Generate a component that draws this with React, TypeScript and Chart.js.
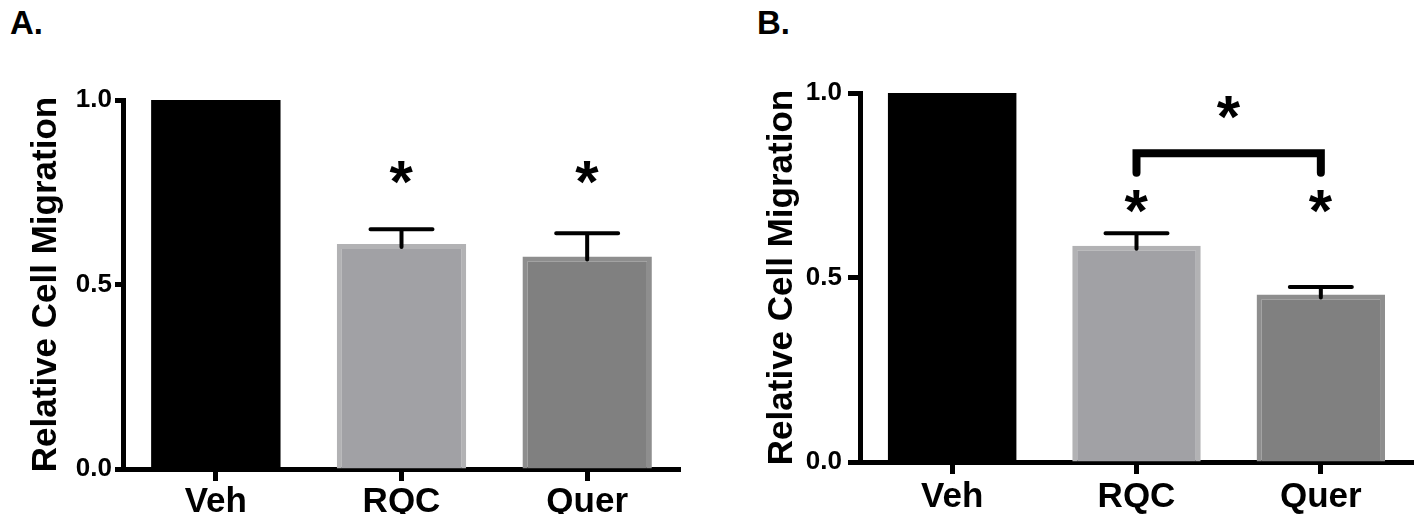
import React, { useEffect, useRef } from 'react';
import { Chart, registerables } from 'chart.js';

Chart.register(...registerables);

const FONT = "'Liberation Sans', Arial, Helvetica, sans-serif";

// ---- shared ----
const categories = ['Veh', 'RQC', 'Quer'];
const yTickValues = [0, 0.5, 1.0];
const yAxisTitle = 'Relative Cell Migration';
const barFills = ['#000000', '#a1a1a5', '#808080'];
const barBorders = ['#000000', '#b2b2b4', '#8e8e8e'];
const barBorderWidths = [0, 5, 5];

// ---- panel A ----
const panelAMeans = [1.0, 0.61, 0.576];
const panelASem = [0, 0.04, 0.063];
const panelAStarLevels = [null, 0.804, 0.804];

// ---- panel B ----
const panelBMeans = [1.0, 0.586, 0.454];
const panelBSem = [0, 0.034, 0.02];
const panelBStarLevels = [null, 0.705, 0.705];
const panelBBracketFrom = 'RQC';
const panelBBracketTo = 'Quer';
const panelBBracketLevel = 0.837;
const panelBBracketLegEnd = 0.784;
const panelBBracketStarLevel = 0.961;

type Bracket = { from: string; to: string; level: number; legEnd: number; starLevel: number } | null;

function drawStar(ctx: CanvasRenderingContext2D, x: number, y: number, size: number) {
  ctx.save();
  ctx.font = `bold ${size}px ${FONT}`;
  ctx.fillStyle = '#000';
  ctx.textAlign = 'left';
  ctx.textBaseline = 'alphabetic';
  const m = ctx.measureText('*');
  const w = m.actualBoundingBoxLeft + m.actualBoundingBoxRight;
  const h = m.actualBoundingBoxAscent + m.actualBoundingBoxDescent;
  ctx.fillText('*', x - w / 2 + m.actualBoundingBoxLeft, y - h / 2 + m.actualBoundingBoxAscent);
  ctx.restore();
}

function makeAnnotPlugin(means: number[], sem: number[], stars: (number | null)[], bracket: Bracket) {
  return {
    id: 'annot',
    afterDraw(chart: any) {
      const ctx: CanvasRenderingContext2D = chart.ctx;
      const xs = chart.scales.x;
      const ys = chart.scales.y;
      ctx.save();
      ctx.strokeStyle = '#000';
      ctx.lineWidth = 4;
      ctx.lineCap = 'round';
      means.forEach((m, i) => {
        if (!sem[i]) return;
        const x = xs.getPixelForValue(i);
        const yTop = ys.getPixelForValue(m + sem[i]);
        const yBar = ys.getPixelForValue(m);
        ctx.beginPath();
        ctx.moveTo(x, yBar + 3);
        ctx.lineTo(x, yTop);
        ctx.moveTo(x - 31, yTop);
        ctx.lineTo(x + 31, yTop);
        ctx.stroke();
      });
      stars.forEach((s, i) => {
        if (s == null) return;
        drawStar(ctx, xs.getPixelForValue(i), ys.getPixelForValue(s), 60);
      });
      if (bracket) {
        const x1 = xs.getPixelForValue(categories.indexOf(bracket.from));
        const x2 = xs.getPixelForValue(categories.indexOf(bracket.to));
        const yl = ys.getPixelForValue(bracket.level);
        const ye = ys.getPixelForValue(bracket.legEnd);
        ctx.lineWidth = 8;
        ctx.lineJoin = 'miter';
        ctx.lineCap = 'round';
        ctx.beginPath();
        ctx.moveTo(x1, ye);
        ctx.lineTo(x1, yl);
        ctx.lineTo(x2, yl);
        ctx.lineTo(x2, ye);
        ctx.stroke();
        drawStar(ctx, (x1 + x2) / 2, ys.getPixelForValue(bracket.starLevel), 60);
      }
      ctx.restore();
    },
  };
}

type Layout = {
  yAxisWidth: number;
  xAxisHeight: number;
  padTop: number;
  padRight: number;
  yTickLength: number;
  yTickPadding: number;
  titlePad: number;
  xTickPadding: number;
};

function Panel(props: {
  left: number;
  width: number;
  label: string;
  labelLeft: number;
  means: number[];
  sem: number[];
  stars: (number | null)[];
  bracket: Bracket;
  layout: Layout;
}) {
  const ref = useRef<HTMLCanvasElement | null>(null);
  useEffect(() => {
    if (!ref.current) return;
    const L = props.layout;
    const chart = new Chart(ref.current, {
      type: 'bar',
      data: {
        labels: categories,
        datasets: [
          {
            data: props.means,
            backgroundColor: barFills,
            borderColor: barBorders,
            borderWidth: barBorderWidths,
            borderSkipped: 'start',
            categoryPercentage: 1,
            barPercentage: 0.697,
          },
        ],
      },
      options: {
        responsive: false,
        animation: false,
        devicePixelRatio: 1,
        layout: { padding: { top: L.padTop, right: L.padRight, left: 0, bottom: 0 } },
        plugins: { legend: { display: false }, tooltip: { enabled: false } },
        scales: {
          x: {
            z: 1,
            grid: {
              offset: false,
              drawOnChartArea: false,
              drawTicks: true,
              tickLength: 12,
              tickWidth: 5,
              tickColor: '#000',
            },
            border: { display: true, color: '#000', width: 5 },
            ticks: {
              color: '#000',
              font: { family: FONT, size: 35, weight: 'bold' },
              padding: L.xTickPadding,
              maxRotation: 0,
            },
            afterFit: (s: any) => {
              s.height = L.xAxisHeight;
            },
          },
          y: {
            z: 1,
            min: 0,
            max: 1,
            afterBuildTicks: (s: any) => {
              s.ticks = yTickValues.map((v) => ({ value: v }));
            },
            grid: {
              drawOnChartArea: false,
              drawTicks: true,
              tickLength: L.yTickLength,
              tickWidth: 5,
              tickColor: '#000',
            },
            border: { display: true, color: '#000', width: 5 },
            ticks: {
              color: '#000',
              font: { family: FONT, size: 26, weight: 'bold' },
              padding: L.yTickPadding,
              callback: (v: any) => Number(v).toFixed(1),
            },
            title: {
              display: true,
              text: yAxisTitle,
              color: '#000',
              font: { family: FONT, size: 35, weight: 'bold' },
              padding: { top: L.titlePad, bottom: 0 },
            },
            afterFit: (s: any) => {
              s.width = L.yAxisWidth;
            },
          },
        },
      } as any,
      plugins: [makeAnnotPlugin(props.means, props.sem, props.stars, props.bracket)],
    });
    return () => chart.destroy();
  }, []);

  return (
    <>
      <div
        style={{
          position: 'absolute',
          left: props.labelLeft,
          top: 3,
          font: `bold 33px ${FONT}`,
          color: '#000',
          lineHeight: '40px',
        }}
      >
        {props.label}
      </div>
      <canvas
        ref={ref}
        width={props.width}
        height={514}
        style={{ position: 'absolute', left: props.left, top: 0, width: props.width, height: 514 }}
      />
    </>
  );
}

export default function App() {
  return (
    <div style={{ position: 'fixed', left: 0, top: 0, width: 1421, height: 514, background: '#fff', overflow: 'hidden' }}>
      <Panel
        left={0}
        width={710}
        label="A."
        labelLeft={10}
        means={panelAMeans}
        sem={panelASem}
        stars={panelAStarLevels}
        bracket={null}
        layout={{ yAxisWidth: 123, xAxisHeight: 45, padTop: 100, padRight: 30, yTickLength: 8, yTickPadding: 3, titlePad: 25, xTickPadding: 0 }}
      />
      <Panel
        left={740}
        width={681}
        label="B."
        labelLeft={757}
        means={panelBMeans}
        sem={panelBSem}
        stars={panelBStarLevels}
        bracket={{
          from: panelBBracketFrom,
          to: panelBBracketTo,
          level: panelBBracketLevel,
          legEnd: panelBBracketLegEnd,
          starLevel: panelBBracketStarLevel,
        }}
        layout={{ yAxisWidth: 120, xAxisHeight: 52, padTop: 93, padRight: 8, yTickLength: 12, yTickPadding: 6, titlePad: 21, xTickPadding: 2 }}
      />
    </div>
  );
}
